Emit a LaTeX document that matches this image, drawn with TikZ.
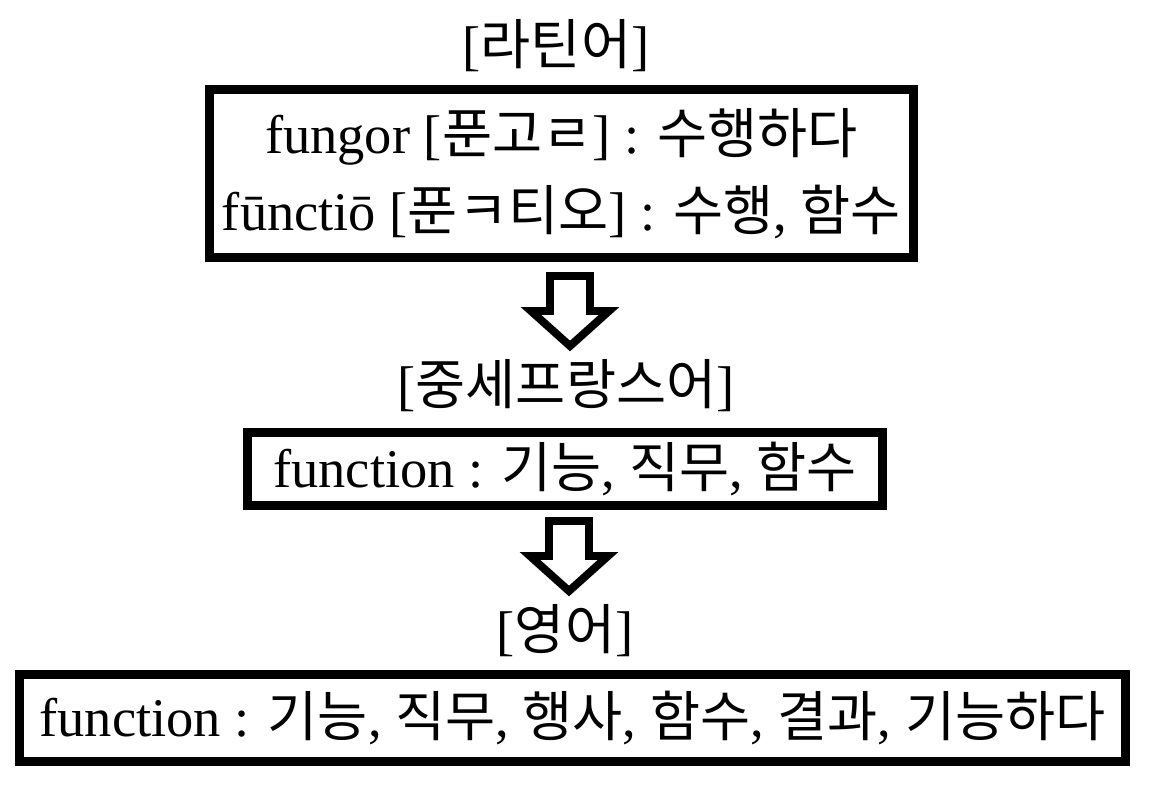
\documentclass[tikz,border=0pt]{standalone}
\usepackage{fontspec}
\setmainfont{Liberation Serif}
\newfontfamily\krfont{Noto Sans CJK KR}
\newcommand{\kr}[1]{{\krfont #1}}
\usetikzlibrary{positioning}
\tikzset{
  % titolo di una lingua
  langtitle/.style={font=\fontsize{31}{34}\selectfont, inner sep=0pt},
  % riquadro con la parola
  wordbox/.style={draw=black, line width=5.1pt, fill=white, align=center,
    inner sep=0pt, font=\fontsize{31}{44}\selectfont},
  % freccia vuota verso il basso
  hollowdown/.pic={
    \draw[line width=4.5pt, line join=miter, fill=white]
      (-20,0) -- (20,0) -- (20,35) -- (39,35) -- (0,70) -- (-39,35) -- (-20,35) -- cycle;
  },
}
\begin{document}
\begin{tikzpicture}[x=0.02cm, y=-0.02cm]
  \useasboundingbox (0,0) rectangle (1172,795);
  % latino
  \node[langtitle] (latin) at (556,46) {[\kr{라틴어}]};
  \node[wordbox, minimum width=704*0.02cm, minimum height=168*0.02cm] (latinbox) at (561.5,173.5)
    {fungor [\kr{푼고ㄹ}] : \kr{수행하다}\\fūnctiō [\kr{푼ㅋ티오}] : \kr{수행}, \kr{함수}};
  \pic at (570,276) {hollowdown};
  % francese medievale
  \node[langtitle] (french) at (566,386) {[\kr{중세프랑스어}]};
  \node[wordbox, minimum width=635*0.02cm, minimum height=73*0.02cm] (frenchbox) at (565,469)
    {function : \kr{기능}, \kr{직무}, \kr{함수}};
  \pic at (569,521) {hollowdown};
  % inglese
  \node[langtitle] (english) at (565,631) {[\kr{영어}]};
  \node[wordbox, minimum width=1106*0.02cm, minimum height=87*0.02cm] (englishbox) at (572.5,718)
    {function : \kr{기능}, \kr{직무}, \kr{행사}, \kr{함수}, \kr{결과}, \kr{기능하다}};
\end{tikzpicture}
\end{document}
